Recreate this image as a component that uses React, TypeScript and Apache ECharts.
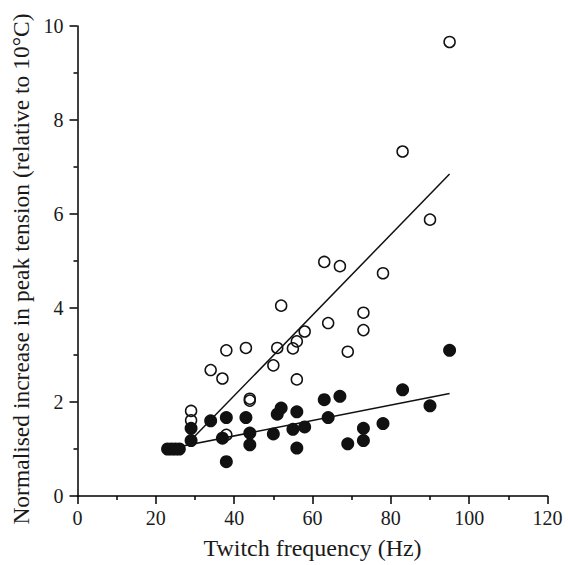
import React, { useEffect, useRef } from "react";
import * as echarts from "echarts";

// Open circles: [Twitch frequency (Hz), normalised increase]
const openFreq = [95, 83, 90, 63, 67, 78, 52, 73, 64, 73, 58, 56, 55, 69, 38, 43, 51, 34, 37, 50, 56, 44, 44, 29, 29, 38];
const openVal = [9.66, 7.33, 5.88, 4.98, 4.89, 4.74, 4.05, 3.9, 3.68, 3.53, 3.5, 3.29, 3.14, 3.07, 3.1, 3.15, 3.15, 2.68, 2.5, 2.78, 2.48, 2.07, 2.03, 1.81, 1.61, 1.3];

// Filled circles
const filledFreq = [23, 24, 25, 26, 29, 29, 34, 38, 43, 37, 38, 44, 44, 50, 51, 52, 56, 55, 58, 56, 63, 67, 64, 69, 73, 73, 78, 83, 90, 95];
const filledVal = [1.0, 1.0, 1.0, 1.0, 1.44, 1.18, 1.6, 1.67, 1.67, 1.23, 0.73, 1.34, 1.09, 1.32, 1.74, 1.87, 1.79, 1.42, 1.47, 1.02, 2.05, 2.12, 1.67, 1.11, 1.44, 1.18, 1.54, 2.26, 1.92, 3.1];

// Regression line end points
const openLineX = [29, 95];
const openLineY = [1.19, 6.85];
const filledLineX = [23, 95];
const filledLineY = [1.0, 2.18];

const xTicks = [0, 20, 40, 60, 80, 100, 120];
const yTicks = [0, 2, 4, 6, 8, 10];

const FONT = "Liberation Serif";

export default function App() {
  const ref = useRef<HTMLDivElement>(null);
  useEffect(() => {
    if (!ref.current) return;
    const chart = echarts.init(ref.current, undefined, { renderer: "svg" });
    const zip = (a: number[], b: number[]) => a.map((v, i) => [v, b[i]]);
    const axisCommon = {
      axisLine: { show: true, lineStyle: { color: "#000", width: 1.5 } },
      axisTick: { show: true, inside: false, length: 8, lineStyle: { color: "#000", width: 1.5 } },
      minorTick: { show: true, splitNumber: 2, length: 4, lineStyle: { color: "#000", width: 1.5 } },
      splitLine: { show: false },
    };
    chart.setOption({
      animation: false,
      backgroundColor: "#fff",
      grid: { left: 77.5, right: 20.5, top: 26, bottom: 66 },
      xAxis: {
        type: "value",
        min: xTicks[0],
        max: xTicks[xTicks.length - 1],
        interval: 20,
        name: "Twitch frequency (Hz)",
        nameLocation: "middle",
        nameGap: 40,
        nameTextStyle: { color: "#1a1a1a", fontFamily: FONT, fontSize: 24 },
        ...axisCommon,
        axisLabel: { color: "#1a1a1a", fontFamily: FONT, fontSize: 20, margin: 12 },
      },
      yAxis: {
        type: "value",
        min: yTicks[0],
        max: yTicks[yTicks.length - 1],
        interval: 2,
        name: "Normalised increase in peak tension (relative to 10°C)",
        nameLocation: "middle",
        nameGap: 43,
        nameTextStyle: { color: "#1a1a1a", fontFamily: FONT, fontSize: 23.5, padding: [0, 16, 0, 0] },
        ...axisCommon,
        axisLabel: { color: "#1a1a1a", fontFamily: FONT, fontSize: 20, margin: 14 },
      },
      series: [
        {
          type: "line",
          data: zip(openLineX, openLineY),
          showSymbol: false,
          symbol: "none",
          lineStyle: { color: "#111", width: 1.5 },
          z: 1,
        },
        {
          type: "line",
          data: zip(filledLineX, filledLineY),
          showSymbol: false,
          symbol: "none",
          lineStyle: { color: "#111", width: 1.5 },
          z: 1,
        },
        {
          type: "scatter",
          data: zip(openFreq, openVal),
          symbol: "circle",
          symbolSize: 11,
          itemStyle: { color: "rgba(255,255,255,0)", borderColor: "#111", borderWidth: 1.5, opacity: 1 },
          z: 2,
        },
        {
          type: "scatter",
          data: zip(filledFreq, filledVal),
          symbol: "circle",
          symbolSize: 13,
          itemStyle: { color: "#111", borderWidth: 0, opacity: 1 },
          z: 3,
        },
      ],
    });
    return () => chart.dispose();
  }, []);
  return <div ref={ref} style={{ width: 568, height: 565, position: "absolute", left: 0, top: 0 }} />;
}
